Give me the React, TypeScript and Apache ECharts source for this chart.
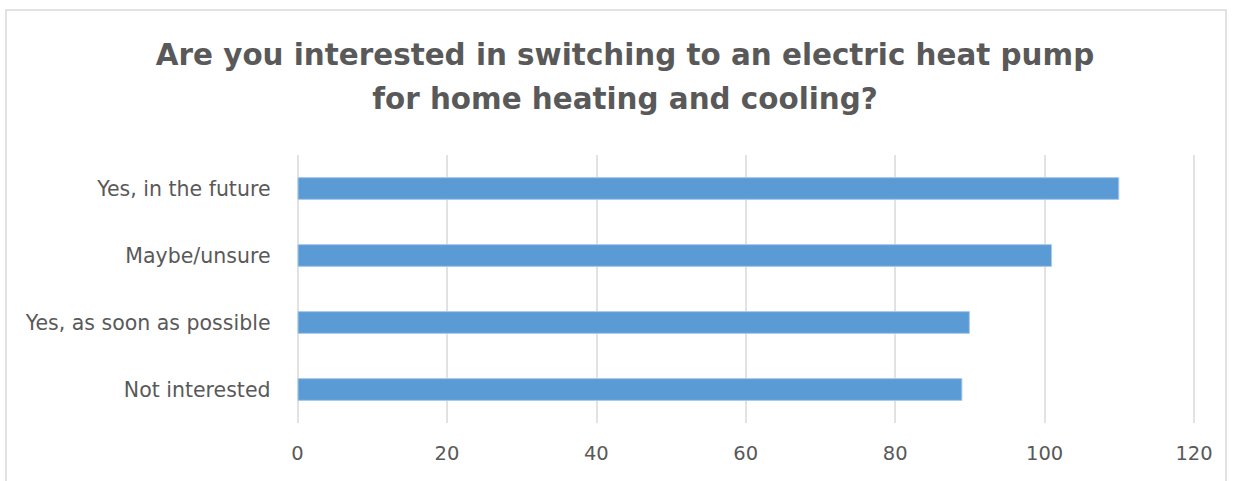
import React, { useEffect, useRef } from "react";
import * as echarts from "echarts";

const titleLines = ["Are you interested in switching to an electric heat pump", "for home heating and cooling?"];
const categories = ["Yes, in the future", "Maybe/unsure", "Yes, as soon as possible", "Not interested"];
const values = [110, 101, 90, 89];
const xMin = 0;
const xMax = 120;
const xInterval = 20;

export default function App() {
  const ref = useRef<HTMLDivElement>(null);
  useEffect(() => {
    document.body.style.margin = "0";
    const chart = echarts.init(ref.current!, null, { renderer: "svg" });
    chart.setOption({
      animation: false,
      backgroundColor: "#ffffff",
      title: {
        text: titleLines.join("\n"),
        left: 620,
        textAlign: "center",
        top: 28,
        textStyle: {
          fontFamily: "DejaVu Sans",
          fontWeight: "bold",
          fontSize: 29.4,
          lineHeight: 44,
          color: "#595959",
        },
      },
      graphic: [
        {
          type: "rect",
          shape: { x: 6, y: 10, width: 1220, height: 480 },
          style: { fill: "none", stroke: "#D9D9D9", lineWidth: 1.5 },
          silent: true,
        },
      ],
      grid: { left: 297.5, right: 39, top: 155, bottom: 58, containLabel: false },
      xAxis: {
        type: "value",
        min: xMin,
        max: xMax,
        interval: xInterval,
        axisLine: { show: false },
        axisTick: { show: false },
        splitLine: { show: true, lineStyle: { color: "#D9D9D9", width: 1.5 } },
        axisLabel: { color: "#595959", fontSize: 19.5, fontFamily: "DejaVu Sans", margin: 20 },
      },
      yAxis: {
        type: "category",
        data: categories,
        inverse: true,
        axisLine: { show: false },
        axisTick: { show: false },
        axisLabel: { color: "#595959", fontSize: 20.5, fontFamily: "DejaVu Sans", margin: 27 },
      },
      series: [
        {
          type: "bar",
          data: values,
          barWidth: "34%",
          itemStyle: { color: "#5B9BD5", borderColor: "#A9CAEB", borderWidth: 1 },
        },
      ],
    });
    return () => chart.dispose();
  }, []);
  return <div ref={ref} style={{ width: 1233, height: 481 }} />;
}
